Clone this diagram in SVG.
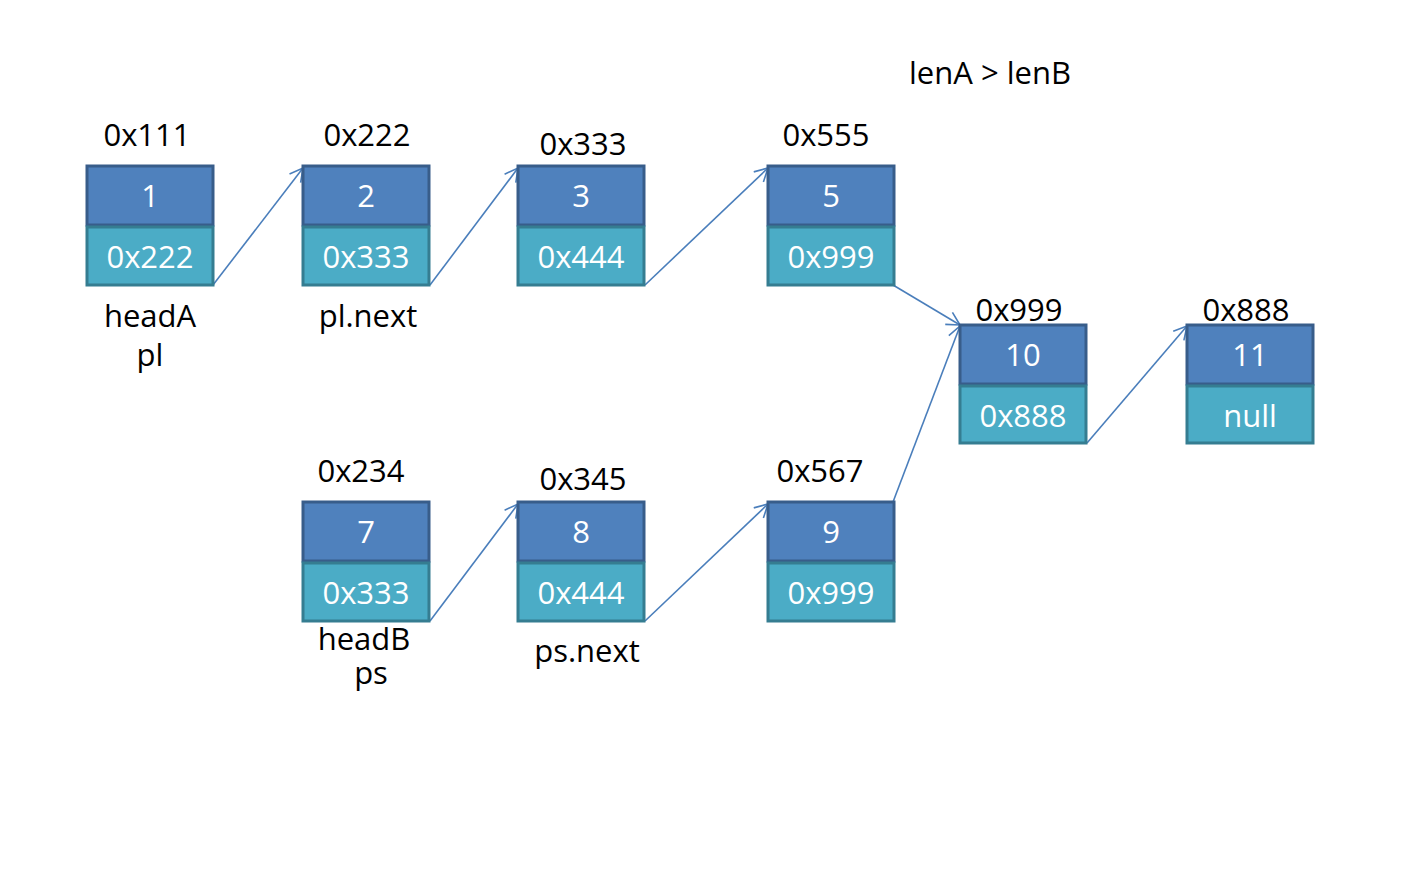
<svg xmlns="http://www.w3.org/2000/svg" width="1425" height="888" viewBox="0 0 1425 888">
<style>
.t{font-family:"Open Sans","Noto Sans",sans-serif;font-size:31px;fill:#000;text-anchor:middle}
.w{font-family:"Open Sans","Noto Sans",sans-serif;font-size:31px;fill:#fff;text-anchor:middle}
.top{fill:#4f81bd;stroke:#385d8a;stroke-width:3}
.bot{fill:#4bacc6;stroke:#357d91;stroke-width:3}
.c{stroke:#4a7ebb;stroke-width:1.6;fill:none;marker-end:url(#ah)}
</style>
<defs>
<marker id="ah" markerUnits="userSpaceOnUse" markerWidth="16" markerHeight="16" viewBox="0 0 16 16" refX="15" refY="8" orient="auto">
<path d="M2,1 L15,8 L2,15" fill="none" stroke="#4a7ebb" stroke-width="1.6"/>
</marker>
</defs>
<rect width="1425" height="888" fill="#fff"/>
<text class="t" x="990" y="84">lenA &gt; lenB</text>
<g id="conn">
<line class="c" x1="213" y1="285" x2="303" y2="168"/>
<line class="c" x1="430" y1="285" x2="518" y2="168"/>
<line class="c" x1="645" y1="285" x2="768" y2="168"/>
<line class="c" x1="893" y1="285" x2="960" y2="325"/>
<line class="c" x1="1087" y1="443" x2="1187" y2="326"/>
<line class="c" x1="430" y1="621" x2="518" y2="504"/>
<line class="c" x1="645" y1="621" x2="768" y2="504"/>
<line class="c" x1="893" y1="502" x2="960" y2="326"/>
</g>
<g id="n1">
<text class="t" x="147" y="146">0x111</text>
<rect class="top" x="87" y="166" width="126" height="59"/>
<rect class="bot" x="87" y="227" width="126" height="58"/>
<text class="w" x="150" y="207">1</text>
<text class="w" x="150" y="268">0x222</text>
<text class="t" x="150" y="327">headA</text>
<text class="t" x="150" y="366">pl</text>
</g>
<g id="n2">
<text class="t" x="367" y="146">0x222</text>
<rect class="top" x="303" y="166" width="126" height="59"/>
<rect class="bot" x="303" y="227" width="126" height="58"/>
<text class="w" x="366" y="207">2</text>
<text class="w" x="366" y="268">0x333</text>
<text class="t" x="368" y="327">pl.next</text>
</g>
<g id="n3">
<text class="t" x="583" y="155">0x333</text>
<rect class="top" x="518" y="166" width="126" height="59"/>
<rect class="bot" x="518" y="227" width="126" height="58"/>
<text class="w" x="581" y="207">3</text>
<text class="w" x="581" y="268">0x444</text>
</g>
<g id="n5">
<text class="t" x="826" y="146">0x555</text>
<rect class="top" x="768" y="166" width="126" height="59"/>
<rect class="bot" x="768" y="227" width="126" height="58"/>
<text class="w" x="831" y="207">5</text>
<text class="w" x="831" y="268">0x999</text>
</g>
<g id="n10">
<text class="t" x="1019" y="321">0x999</text>
<rect class="top" x="960" y="325" width="126" height="59"/>
<rect class="bot" x="960" y="386" width="126" height="57"/>
<text class="w" x="1023" y="366">10</text>
<text class="w" x="1023" y="427">0x888</text>
</g>
<g id="n11">
<text class="t" x="1246" y="321">0x888</text>
<rect class="top" x="1187" y="325" width="126" height="59"/>
<rect class="bot" x="1187" y="386" width="126" height="57"/>
<text class="w" x="1250" y="366">11</text>
<text class="w" x="1250" y="427">null</text>
</g>
<g id="n7">
<text class="t" x="361" y="482">0x234</text>
<rect class="top" x="303" y="502" width="126" height="59"/>
<rect class="bot" x="303" y="563" width="126" height="58"/>
<text class="w" x="366" y="543">7</text>
<text class="w" x="366" y="604">0x333</text>
<text class="t" x="364" y="650">headB</text>
<text class="t" x="371" y="684">ps</text>
</g>
<g id="n8">
<text class="t" x="583" y="490">0x345</text>
<rect class="top" x="518" y="502" width="126" height="59"/>
<rect class="bot" x="518" y="563" width="126" height="58"/>
<text class="w" x="581" y="543">8</text>
<text class="w" x="581" y="604">0x444</text>
<text class="t" x="587" y="662">ps.next</text>
</g>
<g id="n9">
<text class="t" x="820" y="482">0x567</text>
<rect class="top" x="768" y="502" width="126" height="59"/>
<rect class="bot" x="768" y="563" width="126" height="58"/>
<text class="w" x="831" y="543">9</text>
<text class="w" x="831" y="604">0x999</text>
</g>
</svg>
